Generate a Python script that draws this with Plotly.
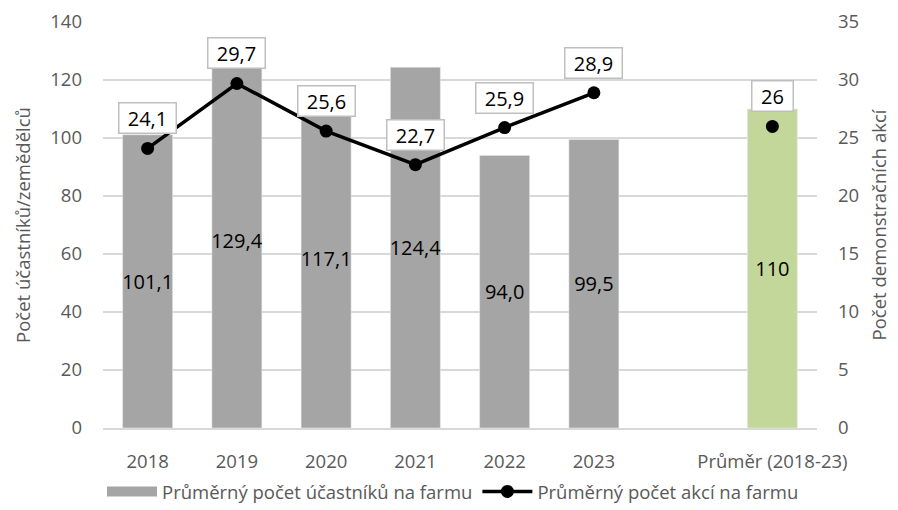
import plotly.graph_objects as go

categories = ["2018", "2019", "2020", "2021", "2022", "2023", " ", "Průměr (2018-23)"]
years = ["2018", "2019", "2020", "2021", "2022", "2023"]
participants = [101.1, 129.4, 117.1, 124.4, 94.0, 99.5]
events = [24.1, 29.7, 25.6, 22.7, 25.9, 28.9]
avg_label = "Průměr (2018-23)"
avg_participants = 110
avg_events = 26

def fmt(v, dec=1):
    return f"{v:.{dec}f}".replace(".", ",")

FONT = "Open Sans"
FS = 18.5
FS_LBL = 20
GRAY_TXT = "#595959"
BAR_GRAY = "#A5A5A5"

fig = go.Figure()
fig.add_trace(go.Bar(
    x=years, y=participants, name="Průměrný počet účastníků na farmu",
    marker_color=BAR_GRAY, width=0.56, showlegend=False,
    text=[fmt(v) for v in participants], textposition="inside",
    insidetextanchor="middle", textfont=dict(color="black", size=FS_LBL, family=FONT),
    textangle=0, constraintext="none",
))
fig.add_trace(go.Bar(
    x=[avg_label], y=[avg_participants], showlegend=False,
    marker_color="#C4D79B", width=0.56,
    text=[str(avg_participants)], textposition="inside",
    insidetextanchor="middle", textfont=dict(color="black", size=FS_LBL, family=FONT),
    textangle=0, constraintext="none",
))
# legend entry for the bars (wide rectangle swatch)
fig.add_trace(go.Scatter(
    x=[None], y=[None], mode="lines", name="Průměrný počet účastníků na farmu",
    line=dict(color=BAR_GRAY, width=15),
))
fig.add_trace(go.Scatter(
    x=years, y=events, yaxis="y2", mode="lines+markers",
    name="Průměrný počet akcí na farmu",
    line=dict(color="black", width=3.5), marker=dict(size=13, color="black"),
))
fig.add_trace(go.Scatter(
    x=[avg_label], y=[avg_events], yaxis="y2", mode="markers", showlegend=False,
    marker=dict(size=13, color="black"),
))

labels = list(zip(years, events, [fmt(e) for e in events])) + [(avg_label, avg_events, str(avg_events))]
for x, v, t in labels:
    fig.add_annotation(
        x=categories.index(x), y=v, xref="x", yref="y2", text=t, showarrow=False, yshift=30,
        font=dict(size=FS_LBL, color="black", family=FONT),
        width=52 if len(t) > 2 else 36, height=25,
        bgcolor="white", bordercolor="#BFBFBF", borderwidth=1.5, borderpad=2,
    )

fig.update_layout(
    width=890, height=502,
    margin=dict(l=95, r=81, t=14, b=82),
    plot_bgcolor="white", paper_bgcolor="white",
    barmode="overlay",
    font=dict(family=FONT, color=GRAY_TXT, size=FS),
    xaxis=dict(type="category", categoryorder="array", categoryarray=categories,
               range=[-0.5, len(categories) - 0.5], automargin=False,
               tickfont=dict(size=FS, color=GRAY_TXT), showline=True,
               linecolor="#D9D9D9", linewidth=1.5, ticks="", ticklabelstandoff=16),
    yaxis=dict(range=[0, 140], dtick=20, gridcolor="#D9D9D9", gridwidth=1.5,
               tickfont=dict(size=FS, color=GRAY_TXT), zeroline=False, automargin=False,
               ticklabelstandoff=20,
               title=dict(text="Počet účastníků/zemědělců", font=dict(size=FS, color=GRAY_TXT), standoff=14)),
    yaxis2=dict(range=[0, 35], dtick=5, overlaying="y", side="right", showgrid=False,
                tickfont=dict(size=FS, color=GRAY_TXT), zeroline=False, automargin=False,
                ticklabelstandoff=20,
                title=dict(text="Počet demonstračních akcí", font=dict(size=FS, color=GRAY_TXT), standoff=14)),
    legend=dict(orientation="h", xref="container", x=0.5, xanchor="center",
                yref="container", y=0.036, yanchor="middle", itemwidth=50,
                font=dict(size=18.5, color=GRAY_TXT), traceorder="normal"),
    separators=",.",
)
fig.write_html("out.html")
